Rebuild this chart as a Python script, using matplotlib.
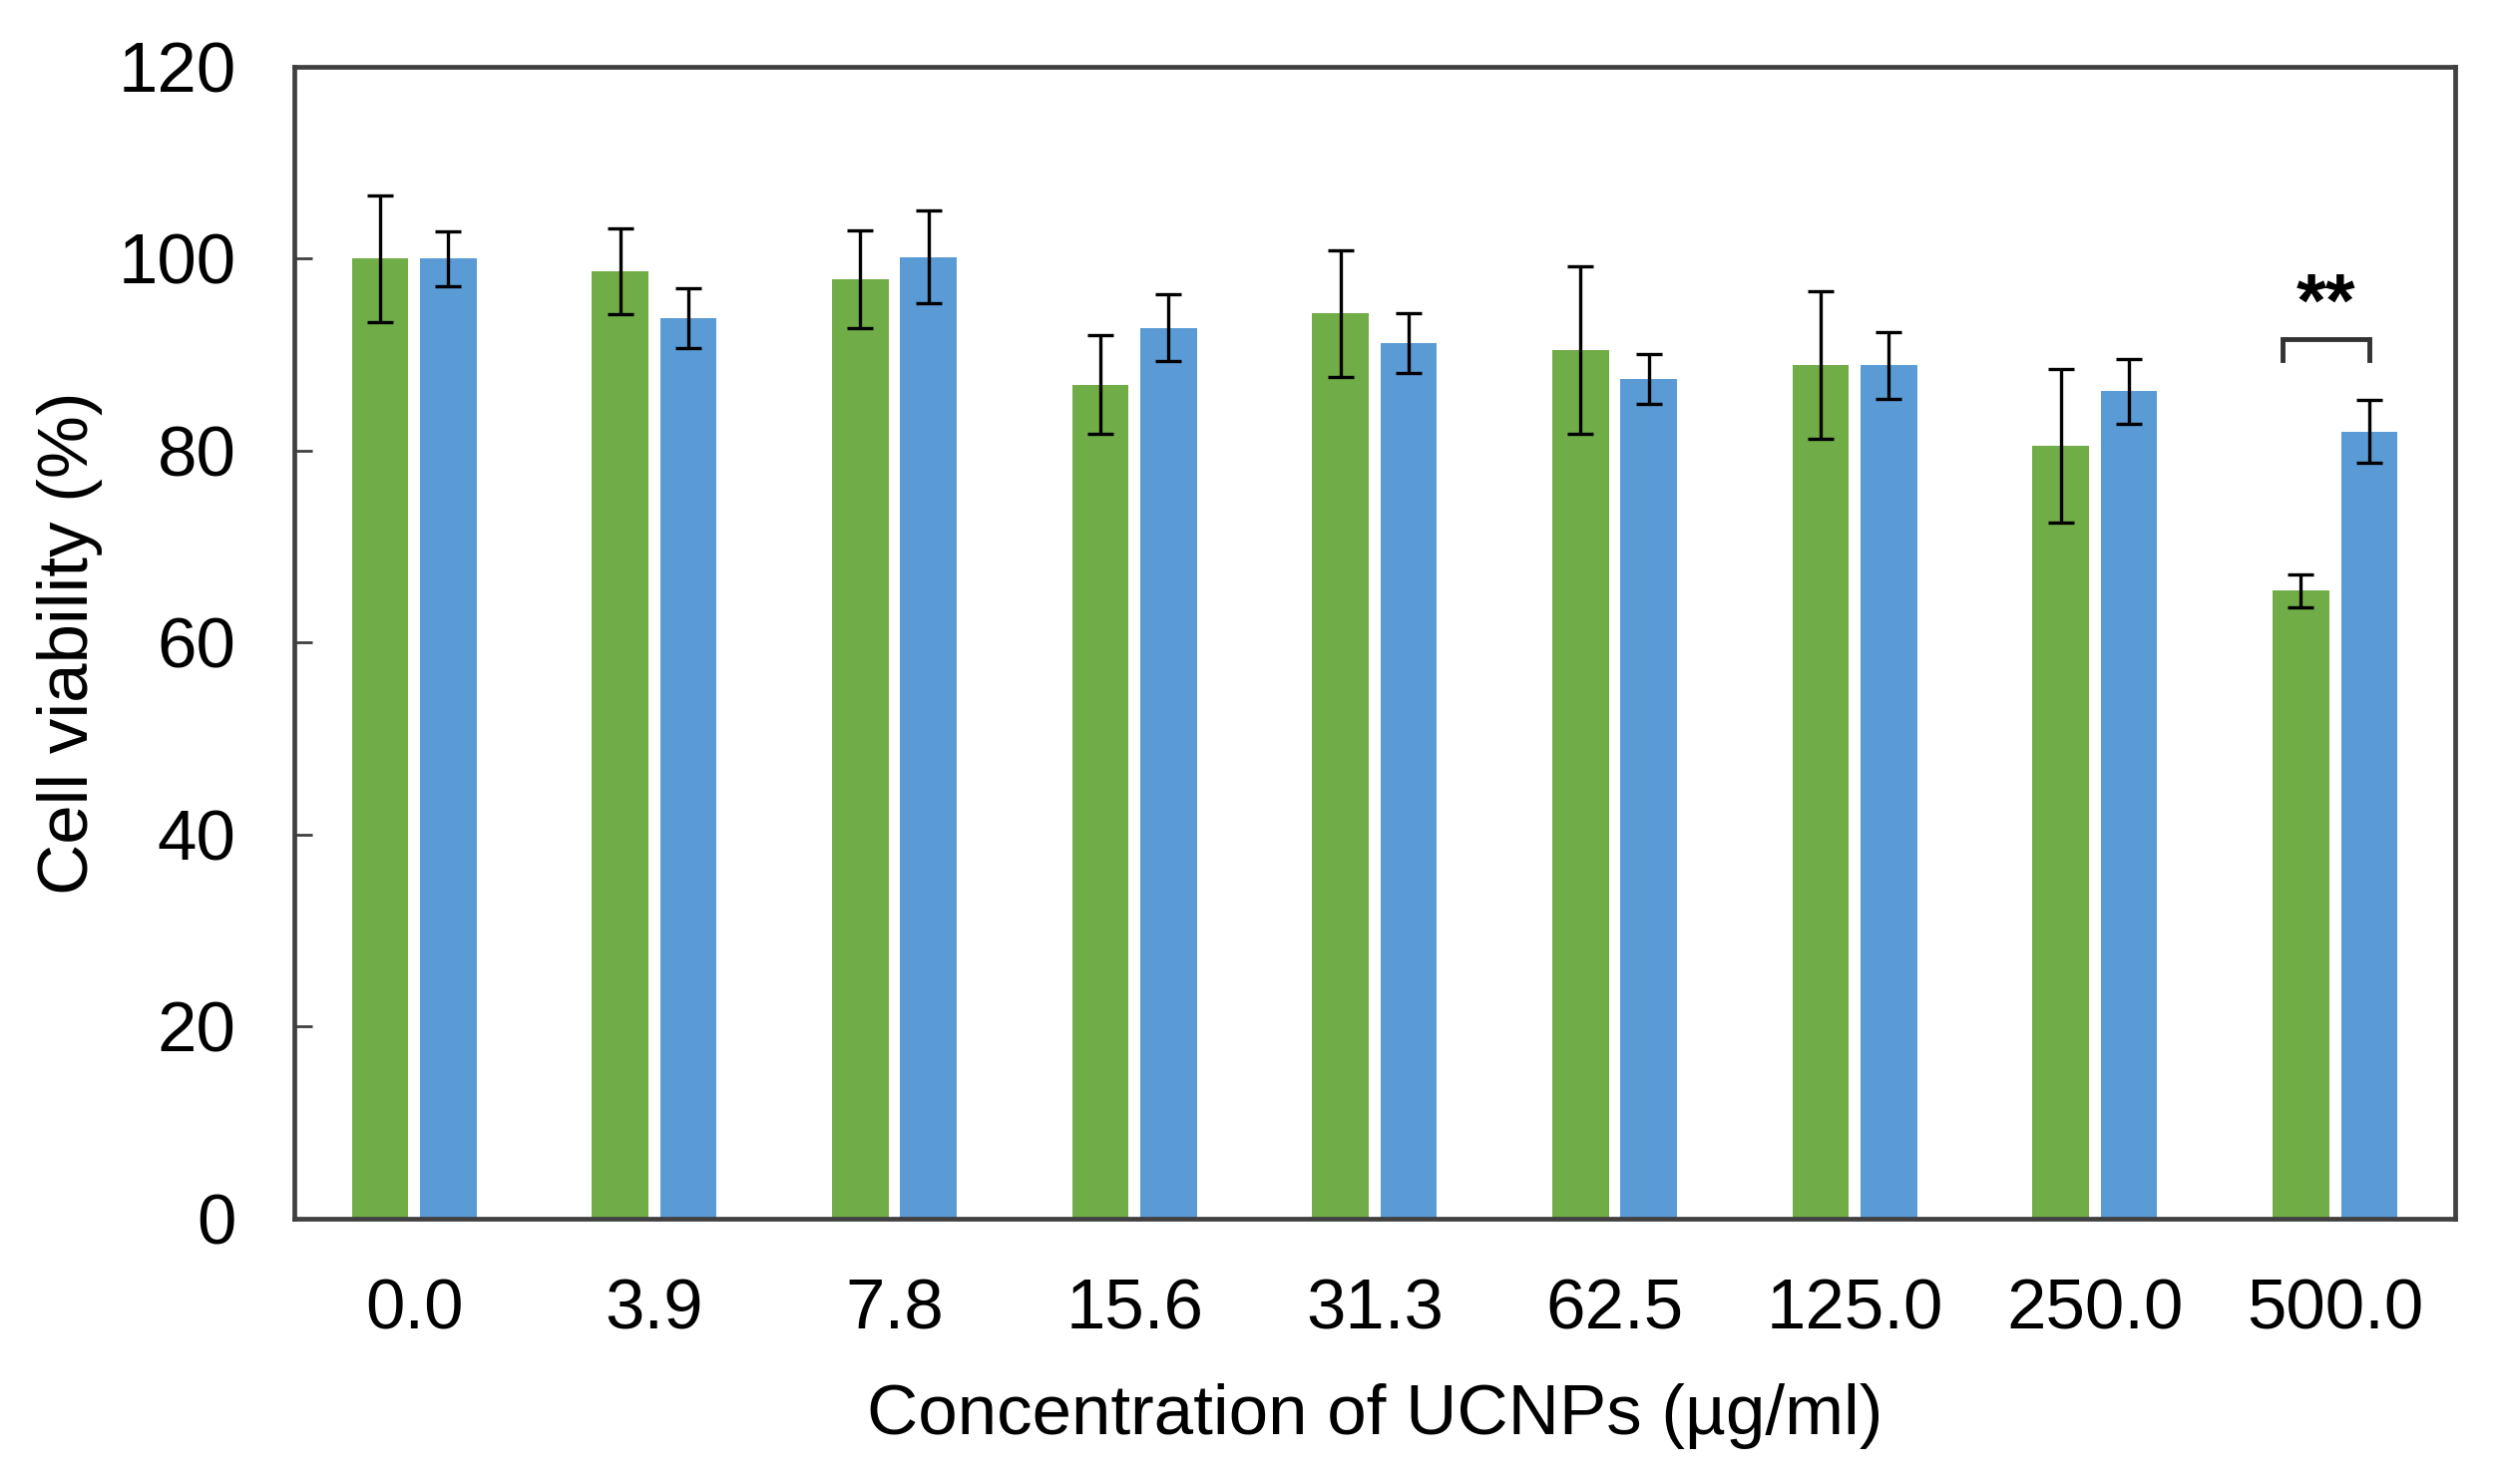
import matplotlib
matplotlib.use('Agg')
import matplotlib.pyplot as plt
import numpy as np

# concentrations of UCNPs (ug/ml)
concentrations = ['0.0', '3.9', '7.8', '15.6', '31.3', '62.5', '125.0', '250.0', '500.0']

# green series
green_mean = [100.0, 98.7, 97.9, 86.9, 94.3, 90.5, 88.9, 80.5, 65.4]
green_err = [6.6, 4.5, 5.1, 5.1, 6.6, 8.7, 7.7, 8.0, 1.7]

# blue series
blue_mean = [100.0, 93.8, 100.2, 92.8, 91.2, 87.5, 88.9, 86.2, 82.0]
blue_err = [2.9, 3.1, 4.8, 3.5, 3.1, 2.6, 3.5, 3.4, 3.3]

# significance mark between the two bars of the last group
sig_group = 8
sig_label = '**'

plt.rcParams['font.family'] = ['Liberation Sans', 'DejaVu Sans']

fig = plt.figure(figsize=(25.14, 14.88), dpi=100)
ax = fig.add_axes([0.1173, 0.1788, 0.8616, 0.7762])

x = np.arange(len(concentrations))
width = 0.235
offset = 0.142
err_style = dict(ecolor='black', elinewidth=2.4, capsize=9.7, capthick=2.4)

ax.bar(x - offset, green_mean, width, color='#70AD47', yerr=green_err,
       error_kw=err_style, zorder=2)
ax.bar(x + offset, blue_mean, width, color='#5B9BD5', yerr=blue_err,
       error_kw=err_style, zorder=2)

# significance bracket
left = x[sig_group] - offset - 0.075
right = x[sig_group] + offset
top = 91.6
ax.plot([left, left, right, right], [top - 2.2, top, top, top - 2.2],
        color='#333333', lw=3.5, solid_joinstyle='miter')
ax.text((left + right) / 2, top + 1.4, sig_label, ha='center', va='baseline',
        fontsize=55, fontweight='bold')

ax.set_xlim(-0.5, len(concentrations) - 0.5)
ax.set_ylim(0, 120)
ax.set_yticks(np.arange(0, 121, 20))
ax.set_xticks(x)
ax.set_xticklabels(concentrations)

ax.tick_params(axis='y', direction='in', length=13, width=2, color='#404040',
               labelsize=51, pad=42)
ax.tick_params(axis='x', length=0, labelsize=51, pad=43)

for sp in ax.spines.values():
    sp.set_color('#404040')
    sp.set_linewidth(3.4)

ax.set_xlabel('Concentration of UCNPs (µg/ml)', fontsize=51, labelpad=28)
ax.set_ylabel('Cell viability (%)', fontsize=51, labelpad=11)

fig.savefig('out.png', dpi=100)
plt.close(fig)
